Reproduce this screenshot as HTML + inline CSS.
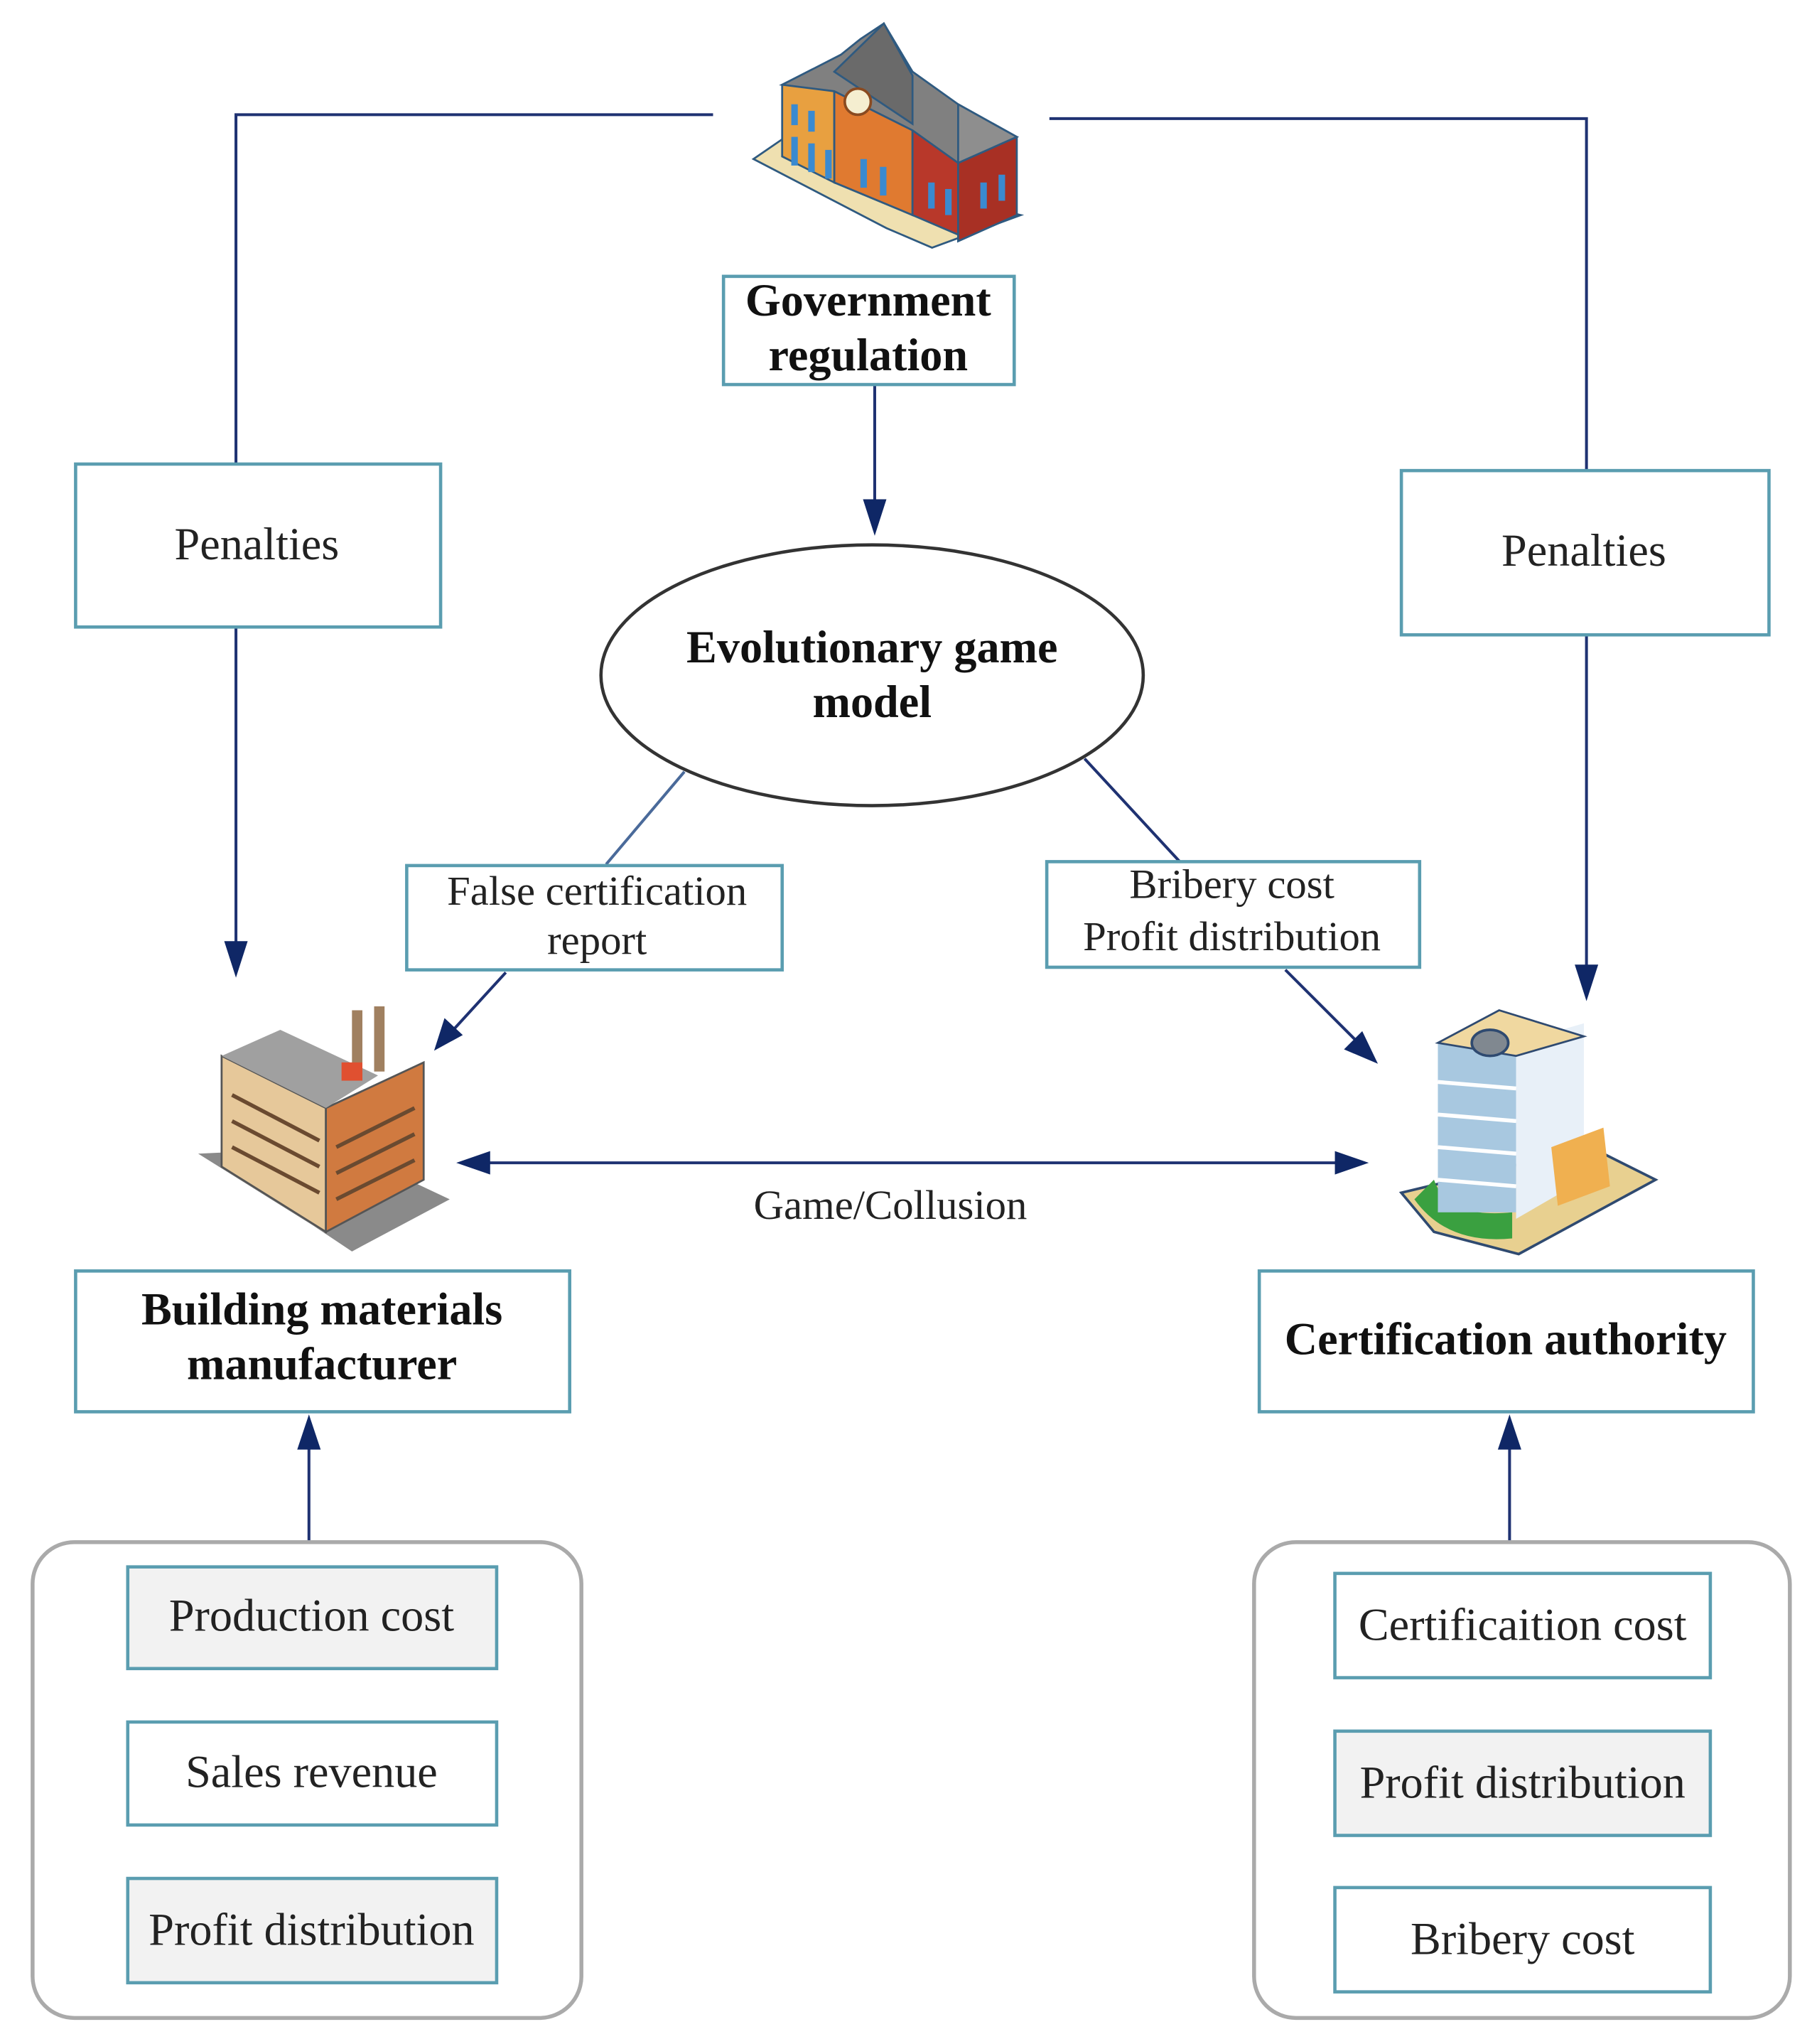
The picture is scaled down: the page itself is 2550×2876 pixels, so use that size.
<!DOCTYPE html>
<html><head><meta charset="utf-8"><style>
html,body{margin:0;padding:0;background:#fff;}
svg{display:block;}
text{font-family:"Liberation Serif",serif;fill:#222;}
.b{font-weight:bold;fill:#111;}
</style></head><body>
<svg width="2550" height="2876" viewBox="0 0 1390 1568" preserveAspectRatio="none" xmlns="http://www.w3.org/2000/svg">
<rect width="1390" height="1568" fill="#fff"/>
<g stroke="#1f3272" stroke-width="2.2" fill="none">
<polyline points="547,88 181,88 181,356"/>
<line x1="181" y1="482" x2="181" y2="730"/>
<polyline points="805,91 1217,91 1217,361"/>
<line x1="1217" y1="487" x2="1217" y2="745"/>
<line x1="671" y1="295" x2="671" y2="390"/>
<line x1="525" y1="592" x2="465" y2="663" stroke="#4a6a9a"/>
<line x1="388" y1="746" x2="345" y2="793"/>
<line x1="832" y1="582" x2="905" y2="661"/>
<line x1="986" y1="744" x2="1045" y2="803"/>
<line x1="370" y1="892" x2="1030" y2="892"/>
<line x1="237" y1="1182" x2="237" y2="1105"/>
<line x1="1158" y1="1182" x2="1158" y2="1105"/>
</g>
<g fill="#0f2766">
<path d="M172,722 L190,722 L181,750 Z"/>
<path d="M1208,740 L1226,740 L1217,768 Z"/>
<path d="M662,383 L680,383 L671,411 Z"/>
<path d="M333,806 L341,781 L355,794 Z"/>
<path d="M1057,816 L1031,805 L1045,791 Z"/>
<path d="M350,892 L376,883 L376,901 Z"/>
<path d="M1050,892 L1024,883 L1024,901 Z"/>
<path d="M237,1085 L228,1112 L246,1112 Z"/>
<path d="M1158,1085 L1149,1112 L1167,1112 Z"/>
</g>
<!-- government building -->
<g stroke="#2f5a80" stroke-width="1.5">
<polygon points="578,122 680,175 715,190 783,165 700,145 610,100" fill="#efe0b0"/>
<polygon points="600,65 640,45 640,140 600,120" fill="#e8a040"/>
<polygon points="640,50 700,60 700,165 640,140" fill="#e07a30"/>
<polygon points="700,60 735,85 735,180 700,165" fill="#b8382a"/>
<polygon points="735,85 780,105 780,165 735,185" fill="#a83024"/>
<polygon points="600,65 645,42 660,30 678,18 700,55 735,80 780,105 735,125 700,100 640,70" fill="#808080"/>
<polygon points="640,55 678,18 700,58 700,95" fill="#6a6a6a"/>
<polygon points="735,80 780,105 735,125" fill="#8e8e8e"/>
<circle cx="658" cy="78" r="10" fill="#f5eed0" stroke="#8a4a20" stroke-width="2"/>
</g>
<g fill="#3a8ad0">
<rect x="607" y="80" width="5" height="16"/><rect x="620" y="85" width="5" height="16"/>
<rect x="607" y="105" width="5" height="22"/><rect x="620" y="110" width="5" height="22"/><rect x="633" y="115" width="5" height="22"/>
<rect x="660" y="122" width="5" height="22"/><rect x="675" y="128" width="5" height="22"/>
<rect x="712" y="140" width="5" height="20"/><rect x="725" y="145" width="5" height="20"/><rect x="752" y="140" width="5" height="20"/><rect x="766" y="134" width="5" height="20"/>
</g>
<rect x="555" y="212" width="223" height="83" fill="#fff" stroke="#5a9db0" stroke-width="2.5"/>
<text x="666" y="242" text-anchor="middle" font-size="35" class="b">Government</text>
<text x="666" y="284" text-anchor="middle" font-size="35" class="b">regulation</text>
<rect x="58" y="356" width="280" height="125" fill="#fff" stroke="#5a9db0" stroke-width="2.5"/>
<text x="197" y="429" text-anchor="middle" font-size="35">Penalties</text>
<rect x="1075" y="361" width="282" height="126" fill="#fff" stroke="#5a9db0" stroke-width="2.5"/>
<text x="1215" y="434" text-anchor="middle" font-size="35">Penalties</text>
<ellipse cx="669" cy="518" rx="208" ry="100" fill="#fff" stroke="#333" stroke-width="2.5"/>
<text x="669" y="508" text-anchor="middle" font-size="35" class="b">Evolutionary game</text>
<text x="669" y="550" text-anchor="middle" font-size="35" class="b">model</text>
<rect x="312" y="664" width="288" height="80" fill="#fff" stroke="#5a9db0" stroke-width="2.5"/>
<text x="458" y="694" text-anchor="middle" font-size="32">False certification</text>
<text x="458" y="732" text-anchor="middle" font-size="32">report</text>
<rect x="803" y="661" width="286" height="81" fill="#fff" stroke="#5a9db0" stroke-width="2.5"/>
<text x="945" y="689" text-anchor="middle" font-size="32">Bribery cost</text>
<text x="945" y="729" text-anchor="middle" font-size="32">Profit distribution</text>
<text x="683" y="935" text-anchor="middle" font-size="32">Game/Collusion</text>
<!-- factory -->
<g>
<polygon points="152,885 240,940 270,960 345,920 260,880" fill="#8a8a8a"/>
<polygon points="170,810 250,850 250,945 170,895" fill="#e6c89a" stroke="#555" stroke-width="1.5"/>
<polygon points="250,850 325,815 325,905 250,945" fill="#d07a40" stroke="#555" stroke-width="1.5"/>
<polygon points="170,810 215,790 290,825 250,850" fill="#a0a0a0"/>
<rect x="270" y="775" width="8" height="50" fill="#a08060"/>
<rect x="287" y="772" width="8" height="50" fill="#a08060"/>
<rect x="262" y="815" width="16" height="14" fill="#e05030"/>
<g stroke="#6a4a30" stroke-width="3">
<line x1="178" y1="840" x2="245" y2="875"/><line x1="178" y1="860" x2="245" y2="895"/><line x1="178" y1="880" x2="245" y2="915"/>
<line x1="258" y1="880" x2="318" y2="850"/><line x1="258" y1="900" x2="318" y2="870"/><line x1="258" y1="920" x2="318" y2="890"/>
</g>
</g>
<!-- office tower -->
<g>
<polygon points="1075,915 1100,945 1165,962 1270,905 1220,880" fill="#e8d090" stroke="#2f4a70" stroke-width="2"/>
<path d="M1085,920 Q1110,955 1160,950 L1160,930 Q1110,935 1100,905 Z" fill="#3aa040"/>
<rect x="1103" y="800" width="60" height="130" fill="#a8c8e0"/>
<polygon points="1163,800 1215,785 1215,905 1163,935" fill="#e8f0f8"/>
<polygon points="1103,800 1150,775 1215,795 1163,810" fill="#f0d8a0" stroke="#2f4a70" stroke-width="1.5"/>
<ellipse cx="1143" cy="800" rx="14" ry="10" fill="#808890" stroke="#2f4a70" stroke-width="2"/>
<g stroke="#fff" stroke-width="3"><line x1="1103" y1="830" x2="1163" y2="835"/><line x1="1103" y1="855" x2="1163" y2="860"/><line x1="1103" y1="880" x2="1163" y2="885"/><line x1="1103" y1="905" x2="1163" y2="910"/></g>
<polygon points="1190,880 1230,865 1235,910 1195,925" fill="#f0b050"/>
</g>
<rect x="58" y="975" width="379" height="108" fill="#fff" stroke="#5a9db0" stroke-width="2.5"/>
<text x="247" y="1016" text-anchor="middle" font-size="35" class="b">Building materials</text>
<text x="247" y="1058" text-anchor="middle" font-size="35" class="b">manufacturer</text>
<rect x="966" y="975" width="379" height="108" fill="#fff" stroke="#5a9db0" stroke-width="2.5"/>
<text x="1155" y="1039" text-anchor="middle" font-size="35" class="b">Certification authority</text>
<rect x="25" y="1183" width="421" height="365" rx="32" fill="#fff" stroke="#aaa" stroke-width="3"/>
<rect x="98" y="1202" width="283" height="78" fill="#f2f2f2" stroke="#5a9db0" stroke-width="2.5"/>
<text x="239" y="1251" text-anchor="middle" font-size="35">Production cost</text>
<rect x="98" y="1321" width="283" height="79" fill="#fff" stroke="#5a9db0" stroke-width="2.5"/>
<text x="239" y="1371" text-anchor="middle" font-size="35">Sales revenue</text>
<rect x="98" y="1441" width="283" height="80" fill="#f2f2f2" stroke="#5a9db0" stroke-width="2.5"/>
<text x="239" y="1492" text-anchor="middle" font-size="35">Profit distribution</text>
<rect x="962" y="1183" width="411" height="365" rx="32" fill="#fff" stroke="#aaa" stroke-width="3"/>
<rect x="1024" y="1207" width="288" height="80" fill="#fff" stroke="#5a9db0" stroke-width="2.5"/>
<text x="1168" y="1258" text-anchor="middle" font-size="35">Certificaition cost</text>
<rect x="1024" y="1328" width="288" height="80" fill="#f2f2f2" stroke="#5a9db0" stroke-width="2.5"/>
<text x="1168" y="1379" text-anchor="middle" font-size="35">Profit distribution</text>
<rect x="1024" y="1448" width="288" height="80" fill="#fff" stroke="#5a9db0" stroke-width="2.5"/>
<text x="1168" y="1499" text-anchor="middle" font-size="35">Bribery cost</text>
</svg>
</body></html>
